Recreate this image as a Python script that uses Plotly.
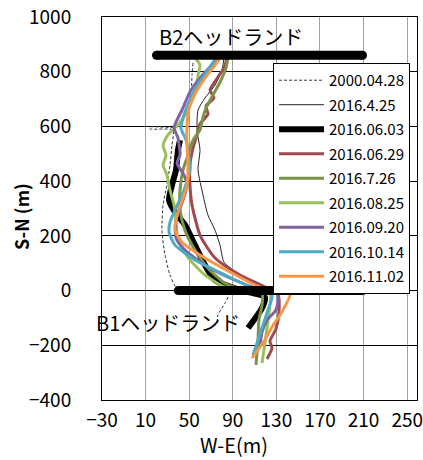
import plotly.graph_objects as go

# ---- data ----
names = ["2000.04.28", "2016.4.25", "2016.06.03", "2016.06.29", "2016.7.26",
         "2016.08.25", "2016.09.20", "2016.10.14", "2016.11.02"]

x_2000_04_28 = [53.5, 52.6, 51.6, 47.1, 41.6, 37.0, 14.0, 14.0, 35.1, 34.2, 32.4, 29.6, 26.0, 25.0, 27.8, 32.4, 38.8, 87.4, 82.8, 76.4, 75.5]
y_2000_04_28 = [832, 788, 715, 660, 616, 598, 598, 591, 587, 532, 459, 386, 313, 221, 130, 57, 9, -2, -46, -89, -119]

x_2016_04_25 = [81.9, 80.1, 73.7, 64.5, 58.1, 57.2, 59.9, 58.1, 62.7, 67.2, 73.7, 78.3, 81.9, 96.6, 110.4, 116.8]
y_2016_04_25 = [850, 806, 751, 704, 660, 587, 514, 441, 349, 276, 221, 166, 104, 57, 20, 2]

x_2016_06_03 = [41.6, 39.7, 37.9, 34.2, 31.5, 37.0, 46.1, 55.3, 64.5, 73.7, 96.6, 119.5, 116.8, 104.0]
y_2016_06_03 = [550, 514, 441, 386, 331, 287, 240, 166, 93, 38, 2, -24, -64, -137]

x_2016_06_29 = [84.7, 81.9, 74.6, 69.1, 72.7, 65.4, 67.2, 59.9, 57.2, 53.5, 50.7, 50.7, 52.6, 59.9, 73.7, 96.6, 119.5, 131.5, 132.4, 129.6, 124.1, 126.0, 121.4]
y_2016_06_29 = [850, 814, 770, 733, 704, 675, 645, 609, 569, 521, 459, 386, 313, 203, 119, 57, 13, -16, -78, -140, -185, -210, -250]

x_2016_07_26 = [85.6, 83.8, 78.3, 71.8, 65.4, 62.7, 59.9, 53.5, 48.9, 44.3, 41.6, 41.6, 46.1, 55.3, 67.2, 82.8, 101.2, 116.8, 116.8, 114.0, 113.1, 111.3]
y_2016_07_26 = [850, 814, 762, 715, 667, 634, 587, 550, 495, 441, 367, 294, 221, 148, 82, 27, 2, -9, -53, -108, -181, -272]

x_2016_08_25 = [55.3, 59.9, 58.1, 56.2, 50.7, 46.1, 39.7, 30.5, 26.0, 28.7, 26.0, 29.6, 32.4, 36.1, 37.9, 39.7, 50.7, 64.5, 82.8, 110.4, 124.1, 122.3, 119.5, 116.8]
y_2016_08_25 = [850, 825, 788, 733, 678, 642, 605, 569, 532, 495, 459, 422, 367, 313, 258, 185, 112, 57, 13, -5, -9, -108, -192, -265]

x_2016_09_20 = [76.4, 70.9, 59.9, 50.7, 43.4, 37.9, 36.1, 39.7, 41.6, 38.8, 45.2, 48.0, 44.3, 37.9, 37.9, 46.1, 64.5, 92.0, 115.0, 131.5, 129.6, 121.4, 116.8, 115.0]
y_2016_09_20 = [850, 825, 777, 726, 660, 616, 594, 558, 495, 466, 422, 386, 331, 258, 192, 148, 93, 38, 2, -16, -71, -108, -152, -199]

x_2016_10_14 = [74.6, 67.2, 58.1, 50.7, 45.2, 42.5, 47.1, 49.8, 50.7, 45.2, 37.9, 32.4, 31.5, 37.0, 55.3, 82.8, 110.4, 126.0, 122.3, 117.7, 113.1, 108.5]
y_2016_10_14 = [850, 806, 755, 697, 642, 594, 550, 495, 441, 367, 302, 250, 214, 166, 112, 57, 6, -16, -71, -126, -181, -236]

x_2016_11_02 = [79.2, 71.8, 64.5, 56.2, 49.8, 48.0, 48.0, 48.9, 48.0, 44.3, 38.8, 37.0, 43.4, 59.9, 87.4, 115.0, 142.5, 135.1, 126.0, 118.6, 107.6]
y_2016_11_02 = [854, 814, 777, 726, 667, 605, 532, 459, 386, 338, 276, 221, 177, 130, 68, 13, -9, -78, -133, -185, -247]

# headland bars
b2_x = [20, 209]
b2_y = [860, 860]
b1_x = [40, 209]
b1_y = [0, 0]
headland_labels = ["B2ヘッドランド", "B1ヘッドランド"]

x_ticks = [-30, 10, 50, 90, 130, 170, 210, 250]
y_ticks = [-400, -200, 0, 200, 400, 600, 800, 1000]

# ---- figure ----
FONT = "Noto Sans CJK JP"
series = [
    (x_2000_04_28, y_2000_04_28, dict(color="#333333", width=1, dash="3px,2px")),
    (x_2016_04_25, y_2016_04_25, dict(color="#222222", width=1)),
    (x_2016_06_03, y_2016_06_03, dict(color="#000000", width=6)),
    (x_2016_06_29, y_2016_06_29, dict(color="#a04a4d", width=3)),
    (x_2016_07_26, y_2016_07_26, dict(color="#7a9448", width=3)),
    (x_2016_08_25, y_2016_08_25, dict(color="#9bc05a", width=3)),
    (x_2016_09_20, y_2016_09_20, dict(color="#8064a2", width=3)),
    (x_2016_10_14, y_2016_10_14, dict(color="#4bacc6", width=3)),
    (x_2016_11_02, y_2016_11_02, dict(color="#f79646", width=3)),
]

fig = go.Figure()
for name, (xs, ys, line) in zip(names, series):
    fig.add_trace(go.Scatter(x=xs, y=ys, mode="lines", name=name, line=line,
                             legendgroup=name, line_shape="spline",
                             line_smoothing=0.6))

for bx, by in [(b2_x, b2_y), (b1_x, b1_y)]:
    fig.add_trace(go.Scatter(x=bx, y=by, mode="lines+markers", showlegend=False,
                             line=dict(color="black", width=9),
                             marker=dict(color="black", size=9)))

fig.add_annotation(x=88, y=927, text=headland_labels[0], showarrow=False,
                   xanchor="center", yanchor="middle",
                   font=dict(family=FONT, size=20, color="black"))
fig.add_annotation(x=31, y=-115, text=headland_labels[1], showarrow=False,
                   xanchor="center", yanchor="middle",
                   font=dict(family=FONT, size=20, color="black"))

fig.add_annotation(xref="paper", yref="paper", x=0.419, y=-0.115, text="W-E(m)",
                   xanchor="center", yanchor="middle",
                   showarrow=False, font=dict(family=FONT, size=20, color="black"))
fig.add_annotation(xref="paper", yref="paper", x=-0.257, y=0.478, text="<b>S-N (m)</b>",
                   xanchor="center", yanchor="middle",
                   textangle=-90, showarrow=False,
                   font=dict(family=FONT, size=18, color="black"))

fig.update_layout(
    width=423, height=460,
    margin=dict(l=102, r=6, t=17, b=60, autoexpand=False),
    paper_bgcolor="white", plot_bgcolor="white",
    font=dict(family=FONT, size=19, color="black"),
    showlegend=True,
    legend=dict(x=0.543, y=0.88, xanchor="left", yanchor="top",
                bgcolor="white", bordercolor="black", borderwidth=1,
                font=dict(family=FONT, size=15, color="black"),
                itemwidth=45, tracegroupgap=2),
    xaxis=dict(range=[-30, 259], tickvals=x_ticks, ticks="", showgrid=True,
               gridcolor="#a0a0a0", gridwidth=1, showline=True, linecolor="black",
               linewidth=1, mirror=True, zeroline=False, ticklabelstandoff=3,
               ticklabeloverflow="allow",
               automargin=False, tickfont=dict(family=FONT, size=19)),
    yaxis=dict(range=[-400, 1000], tickvals=y_ticks, ticks="", showgrid=True,
               gridcolor="#000000", gridwidth=1, showline=True, linecolor="black",
               linewidth=1, mirror=True, zeroline=False, ticklabelstandoff=26,
               ticklabeloverflow="allow",
               automargin=False, tickfont=dict(family=FONT, size=19)),
)

# remove the default 8px page margin so the figure fills the window exactly
fig.write_html("out.html", config={"displayModeBar": False},
               post_script="document.body.style.margin='0';document.body.style.overflow='hidden';")
